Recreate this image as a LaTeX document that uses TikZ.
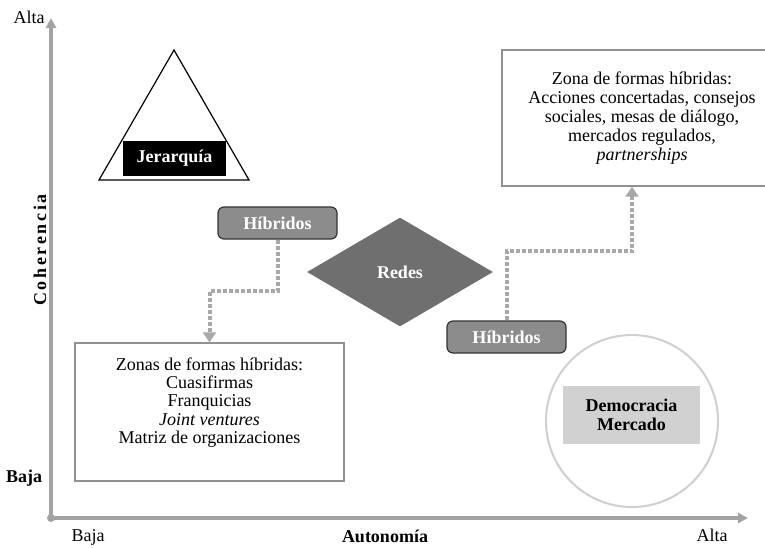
\documentclass[tikz,border=0pt]{standalone}
\usepackage{fontspec}
\setmainfont{Liberation Serif}
\usetikzlibrary{arrows.meta,shapes.geometric}
\definecolor{axisgray}{HTML}{A3A3A3}
\definecolor{flowgray}{HTML}{A8A8A8}
\definecolor{hybgray}{HTML}{8C8C8C}
\definecolor{netgray}{HTML}{6F6F6F}
\definecolor{boxgray}{HTML}{909090}
\definecolor{ringgray}{HTML}{CFCFCF}
\definecolor{marketgray}{HTML}{D1D1D1}
\begin{document}
\begin{tikzpicture}[x=0.5pt,y=-0.5pt,
    every node/.style={font=\fontsize{9}{9.4}\selectfont},
    axis/.style={axisgray,line width=1.8pt,-{Triangle[width=5pt,length=5pt]}},
    flow/.style={flowgray,line width=2pt,dash pattern=on 2pt off 1pt,-{Triangle[width=6.5pt,length=5pt]}},
    hybrid/.style={draw=black!80,fill=hybgray,rounded corners=3pt,text=white,font=\fontsize{9}{9.4}\selectfont\bfseries,minimum width=59.5pt,minimum height=16pt,line width=0.6pt},
    zone/.style={draw=boxgray,line width=0.7pt,align=center,minimum width=134.5pt,minimum height=69pt}]
  \useasboundingbox (0,0) rectangle (765,547);

  \coordinate (origin) at (51,518);
  \draw[axis] (origin) -- (51,18);
  \draw[axis] (origin) -- (748,518);
  \fill[axisgray] (origin) circle (4);
  \node (altaY) at (29,17) {Alta};
  \node[font=\fontsize{9}{9.4}\selectfont\bfseries] (bajaY) at (24,478) {Baja};
  \node[rotate=90,font=\fontsize{9}{9.4}\selectfont\bfseries\addfontfeature{LetterSpace=15}] (coher) at (40,250) {Coherencia};
  \node (bajaX) at (88,537) {Baja};
  \node[font=\fontsize{9}{9.4}\selectfont\bfseries] (auto) at (385,536) {Autonomía};
  \node (altaX) at (712,535) {Alta};

  \draw[line width=0.6pt] (99,180) -- (174,50) -- (249,180) -- cycle;
  \node[fill=black,text=white,font=\fontsize{9}{9.4}\selectfont\bfseries,minimum width=51.5pt,minimum height=17.5pt] (jer) at (174.5,158.5) {Jerarquía};

  \node[diamond,fill=netgray,text=white,font=\fontsize{9}{9.4}\selectfont\bfseries,inner sep=0pt,minimum width=93pt,minimum height=54.5pt] (redes) at (400,272) {Redes};

  \node[hybrid] (hibL) at (277.5,223) {Híbridos};
  \node[hybrid] (hibR) at (506.5,337) {Híbridos};

  \node[zone,label={[anchor=north,yshift=-4pt,align=center,font=\fontsize{9}{9.2}\selectfont]north:{Zonas de formas híbridas:\\Cuasifirmas\\Franquicias\\\textit{Joint ventures}\\Matriz de organizaciones}}] (zoneL) at (209.5,412) {};
  \node[zone,minimum width=140pt,minimum height=68pt] (zoneR) at (642,118) {Zona de formas híbridas:\\Acciones concertadas, consejos\\sociales, mesas de diálogo,\\mercados regulados,\\\textit{partnerships}};

  \node[circle,draw=ringgray,line width=1pt,minimum size=86pt] (ring) at (632,421) {};
  \node[fill=marketgray,align=center,font=\fontsize{9}{9.4}\selectfont\bfseries,minimum width=68.5pt,minimum height=29pt] (market) at (631.5,415) {Democracia\\Mercado};

  \draw[flow] (hibL.south) -- ++(0,51) -| (zoneL.north);
  \draw[flow] (hibR.north) -- ++(0,-69) -| ([xshift=-5pt]zoneR.south);
\end{tikzpicture}
\end{document}
